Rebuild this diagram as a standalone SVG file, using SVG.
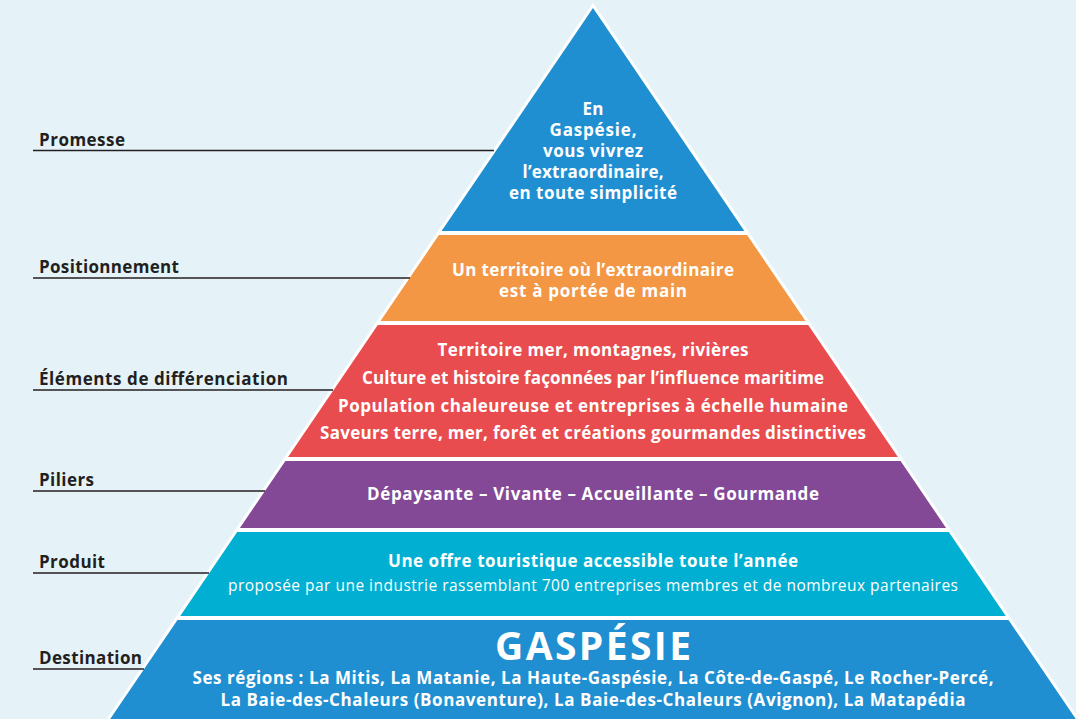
<svg xmlns="http://www.w3.org/2000/svg" width="1076" height="719" viewBox="0 0 1076 719">
<style>
.lbl{font-family:"Open Sans","Liberation Sans",sans-serif;font-weight:700;font-size:17px;fill:#231f20}
.t{font-family:"Open Sans","Liberation Sans",sans-serif;font-weight:700;font-size:17px;fill:#ffffff;text-anchor:middle}
.s{font-family:"Open Sans","Liberation Sans",sans-serif;font-weight:400;font-size:15.5px;fill:#ffffff;text-anchor:middle}
.big{font-family:"Open Sans","Liberation Sans",sans-serif;font-weight:700;font-size:39px;fill:#ffffff;text-anchor:middle}
.ln{stroke:#231f20;stroke-width:1.5;fill:none}
</style>
<rect x="0" y="0" width="1076" height="719" fill="#e5f3f8"/>
<polygon points="593,2.7 1079.3,719 106.7,719" fill="#ffffff"/>
<g id="layer-promesse">
<polygon points="593,8 744.4,231 441.6,231" fill="#1f8fd1"/>
<text class="t" x="593" y="115" textLength="21" lengthAdjust="spacing">En</text>
<text class="t" x="593" y="136" textLength="87" lengthAdjust="spacing">Gaspésie,</text>
<text class="t" x="593" y="157" textLength="100" lengthAdjust="spacing">vous vivrez</text>
<text class="t" x="593" y="178" textLength="141" lengthAdjust="spacing">l’extraordinaire,</text>
<text class="t" x="593" y="199" textLength="168" lengthAdjust="spacing">en toute simplicité</text>
</g>
<g id="layer-positionnement">
<polygon points="438.9,235 747.1,235 805.5,321 380.5,321" fill="#f39744"/>
<text class="t" x="593" y="276" textLength="282" lengthAdjust="spacing">Un territoire où l’extraordinaire</text>
<text class="t" x="593" y="297" textLength="188" lengthAdjust="spacing">est à portée de main</text>
</g>
<g id="layer-differenciation">
<polygon points="377.8,325 808.2,325 897.9,457 288.1,457" fill="#e84c4e"/>
<text class="t" x="593" y="356" textLength="311" lengthAdjust="spacing">Territoire mer, montagnes, rivières</text>
<text class="t" x="593" y="384" textLength="462" lengthAdjust="spacing">Culture et histoire façonnées par l’influence maritime</text>
<text class="t" x="593" y="412" textLength="510" lengthAdjust="spacing">Population chaleureuse et entreprises à échelle humaine</text>
<text class="t" x="593" y="439" textLength="546" lengthAdjust="spacing">Saveurs terre, mer, forêt et créations gourmandes distinctives</text>
</g>
<g id="layer-piliers">
<polygon points="285.4,461 900.6,461 946.1,528 239.9,528" fill="#844996"/>
<text class="t" x="593" y="500" textLength="452" lengthAdjust="spacing">Dépaysante – Vivante – Accueillante – Gourmande</text>
</g>
<g id="layer-produit">
<polygon points="237.2,532 948.8,532 1005.8,616 180.2,616" fill="#00afd1"/>
<text class="t" x="593" y="567" textLength="410" lengthAdjust="spacing">Une offre touristique accessible toute l’année</text>
<text class="s" x="593" y="591" textLength="730" lengthAdjust="spacing">proposée par une industrie rassemblant 700 entreprises membres et de nombreux partenaires</text>
</g>
<g id="layer-destination">
<polygon points="177.5,620 1008.5,620 1075.8,719 110.2,719" fill="#1f8fd1"/>
<text class="big" x="593" y="660" textLength="196" lengthAdjust="spacing">GASPÉSIE</text>
<text class="t" x="593" y="684" textLength="801" lengthAdjust="spacing">Ses régions : La Mitis, La Matanie, La Haute-Gaspésie, La Côte-de-Gaspé, Le Rocher-Percé,</text>
<text class="t" x="593" y="706" textLength="745" lengthAdjust="spacing">La Baie-des-Chaleurs (Bonaventure), La Baie-des-Chaleurs (Avignon), La Matapédia</text>
</g>
<g id="label-promesse"><text class="lbl" x="39" y="146" textLength="86" lengthAdjust="spacing">Promesse</text></g>
<g id="label-positionnement"><text class="lbl" x="39" y="273" textLength="140" lengthAdjust="spacing">Positionnement</text></g>
<g id="label-differenciation"><text class="lbl" x="39" y="385" textLength="249" lengthAdjust="spacing">Éléments de différenciation</text></g>
<g id="label-piliers"><text class="lbl" x="39" y="486" textLength="55" lengthAdjust="spacing">Piliers</text></g>
<g id="label-produit"><text class="lbl" x="39" y="568" textLength="66" lengthAdjust="spacing">Produit</text></g>
<g id="label-destination"><text class="lbl" x="39" y="664" textLength="103" lengthAdjust="spacing">Destination</text></g>
<g id="connectors">
<line class="ln" x1="33" y1="150.5" x2="494" y2="150.5"/>
<line class="ln" x1="33" y1="278" x2="410" y2="278"/>
<line class="ln" x1="33" y1="390" x2="333" y2="390"/>
<line class="ln" x1="33" y1="491" x2="265" y2="491"/>
<line class="ln" x1="33" y1="573" x2="209" y2="573"/>
<line class="ln" x1="33" y1="669" x2="144" y2="669"/>
</g>
</svg>
